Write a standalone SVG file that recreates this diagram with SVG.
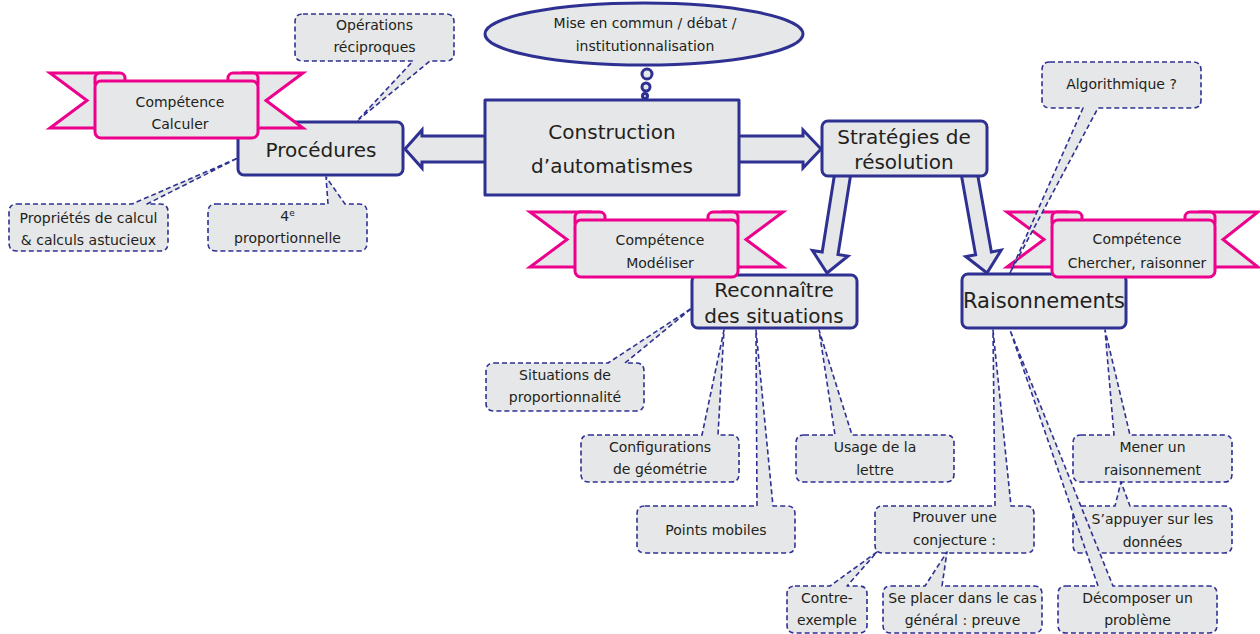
<svg xmlns="http://www.w3.org/2000/svg" width="1260" height="634" viewBox="0 0 1260 634">
<defs>
<style>
.box{fill:#e6e7e8;stroke:#2e3192;stroke-width:3;stroke-linejoin:round}
.arr{fill:#e6e7e8;stroke:#2e3192;stroke-width:3;stroke-linejoin:miter}
.co{fill:#e6e7e8;stroke:#2e3192;stroke-width:1.6;stroke-dasharray:5 3;stroke-linejoin:round}
.rib{fill:#e6e7e8;stroke:#ec008c;stroke-width:3;stroke-linejoin:miter}
.ribr{fill:#e6e7e8;stroke:#ec008c;stroke-width:3}
text{font-family:"DejaVu Sans","Liberation Sans",sans-serif;fill:#231f20;text-anchor:middle}
.s{font-size:14px}
.b{font-size:20px}
</style>
</defs>
<rect width="1260" height="634" fill="#ffffff"/>

<g id="connectors">
<polygon class="arr" points="405,149 422,130 422,136 487,136 487,162 422,162 422,168"/>
<polygon class="arr" points="737,136 803,136 803,130 821,149 803,168 803,162 737,162"/>
<polygon class="arr" points="835.1,170.7 822.2,252 812.4,250.4 827,273 847.9,256.1 838,254.5 850.9,173.3"/>
<polygon class="arr" points="961.1,173.4 975.6,254.7 965.8,256.5 987,273 1001.2,250.1 991.4,251.9 976.9,170.6"/>
<circle class="box" cx="647" cy="74" r="5" stroke-width="2.5"/>
<circle class="box" cx="646" cy="87" r="4" stroke-width="2.5"/>
<circle class="box" cx="645" cy="96" r="2.5" stroke-width="2.5"/>
</g>

<g id="node-mise-en-commun">
<ellipse class="box" cx="644" cy="34" rx="159" ry="31"/>
<text class="s" x="645" y="28">Mise en commun / débat /</text>
<text class="s" x="645" y="51">institutionnalisation</text>
</g>

<g id="node-construction">
<rect class="box" x="485" y="100" width="254" height="95"/>
<text class="b" x="612" y="139">Construction</text>
<text class="b" x="612" y="173">d’automatismes</text>
</g>

<g id="node-procedures">
<rect class="box" x="238" y="122" width="165" height="53" rx="6"/>
<text class="b" x="321" y="157">Procédures</text>
</g>

<g id="node-strategies">
<rect class="box" x="822" y="121" width="165" height="55" rx="6"/>
<text class="b" x="904" y="144">Stratégies de</text>
<text class="b" x="904" y="169">résolution</text>
</g>

<g id="node-reconnaitre">
<rect class="box" x="692" y="275" width="165" height="53" rx="6"/>
<text class="b" x="774" y="297">Reconnaître</text>
<text class="b" x="774" y="323">des situations</text>
</g>

<g id="node-raisonnements">
<rect class="box" x="962" y="274" width="164" height="54" rx="6"/>
<text class="b" x="1044" y="308" style="font-size:21px">Raisonnements</text>
</g>

<g id="banner-calculer">
<polygon class="rib" points="50,73 110,73 110,128 50,128 87,100.5"/>
<polygon class="rib" points="303,73 243,73 243,128 303,128 266,100.5"/>
<rect class="ribr" x="95" y="73" width="30" height="16" rx="5"/>
<rect class="ribr" x="228" y="73" width="30" height="16" rx="5"/>
<rect class="ribr" x="95" y="81" width="163" height="57" rx="6"/>
<text class="s" x="180" y="107">Compétence</text>
<text class="s" x="180" y="129">Calculer</text>
</g>

<g id="banner-modeliser">
<polygon class="rib" points="530,212 590,212 590,267 530,267 567,239.5"/>
<polygon class="rib" points="783,212 723,212 723,267 783,267 746,239.5"/>
<rect class="ribr" x="575" y="212" width="30" height="16" rx="5"/>
<rect class="ribr" x="708" y="212" width="30" height="16" rx="5"/>
<rect class="ribr" x="575" y="220" width="163" height="57" rx="6"/>
<text class="s" x="660" y="245">Compétence</text>
<text class="s" x="660" y="268">Modéliser</text>
</g>

<g id="banner-chercher">
<polygon class="rib" points="1007,212 1067,212 1067,267 1007,267 1044,239.5"/>
<polygon class="rib" points="1258,212 1200,212 1200,267 1258,267 1223,239.5"/>
<rect class="ribr" x="1052" y="212" width="30" height="16" rx="5"/>
<rect class="ribr" x="1185" y="212" width="30" height="16" rx="5"/>
<rect class="ribr" x="1052" y="220" width="163" height="57" rx="6"/>
<text class="s" x="1137" y="244">Compétence</text>
<text class="s" x="1137" y="268">Chercher, raisonner</text>
</g>

<g id="callout-operations">
<path class="co" d="M303,14 H446 Q454,14 454,22 V53 Q454,61 446,61 H430 L357,121 L413,61 H303 Q295,61 295,53 V22 Q295,14 303,14 Z"/>
<text class="s" x="374.5" y="30">Opérations</text>
<text class="s" x="374.5" y="52">réciproques</text>
</g>

<g id="callout-proprietes">
<path class="co" d="M17,204 H132 L238,158 L147,204 H160 Q168,204 168,212 V243 Q168,251 160,251 H17 Q9,251 9,243 V212 Q9,204 17,204 Z"/>
<text class="s" x="88.5" y="223">Propriétés de calcul</text>
<text class="s" x="88.5" y="245">&amp; calculs astucieux</text>
</g>

<g id="callout-quatrieme">
<path class="co" d="M216,204 H328 L326,177 L345,204 H359 Q367,204 367,212 V243 Q367,251 359,251 H216 Q208,251 208,243 V212 Q208,204 216,204 Z"/>
<text class="s" x="287.5" y="221">4<tspan font-size="9" dy="-5">e</tspan></text>
<text class="s" x="287.5" y="243">proportionnelle</text>
</g>

<g id="callout-algorithmique">
<path class="co" d="M1050,62 H1193 Q1201,62 1201,70 V100 Q1201,108 1193,108 H1098 L1010,273 L1083,108 H1050 Q1042,108 1042,100 V70 Q1042,62 1050,62 Z"/>
<text class="s" x="1121.5" y="89">Algorithmique ?</text>
</g>

<g id="callout-situations">
<path class="co" d="M494,363 H608 L692,308 L625,363 H636 Q644,363 644,371 V403 Q644,411 636,411 H494 Q486,411 486,403 V371 Q486,363 494,363 Z"/>
<text class="s" x="565" y="380">Situations de</text>
<text class="s" x="565" y="402">proportionnalité</text>
</g>

<g id="callout-configurations">
<path class="co" d="M589,435 H702 L724,330 L718,435 H731 Q739,435 739,443 V474 Q739,482 731,482 H589 Q581,482 581,474 V443 Q581,435 589,435 Z"/>
<text class="s" x="660" y="452">Configurations</text>
<text class="s" x="660" y="474">de géométrie</text>
</g>

<g id="callout-points">
<path class="co" d="M645,506 H757 L756,330 L773,506 H787 Q795,506 795,514 V545 Q795,553 787,553 H645 Q637,553 637,545 V514 Q637,506 645,506 Z"/>
<text class="s" x="716" y="535">Points mobiles</text>
</g>

<g id="callout-usage">
<path class="co" d="M804,435 H835 L819,330 L852,435 H946 Q954,435 954,443 V474 Q954,482 946,482 H804 Q796,482 796,474 V443 Q796,435 804,435 Z"/>
<text class="s" x="875" y="452">Usage de la</text>
<text class="s" x="875" y="475">lettre</text>
</g>

<g id="callout-prouver">
<path class="co" d="M883,506 H995 L993,330 L1011,506 H1026 Q1034,506 1034,514 V545 Q1034,553 1026,553 H883 Q875,553 875,545 V514 Q875,506 883,506 Z"/>
<text class="s" x="954.5" y="522">Prouver une</text>
<text class="s" x="954.5" y="545">conjecture :</text>
</g>

<g id="callout-mener">
<path class="co" d="M1081,435 H1114 L1105,330 L1130,435 H1224 Q1232,435 1232,443 V474 Q1232,482 1224,482 H1081 Q1073,482 1073,474 V443 Q1073,435 1081,435 Z"/>
<text class="s" x="1152.5" y="452">Mener un</text>
<text class="s" x="1152.5" y="475">raisonnement</text>
</g>

<g id="callout-appuyer">
<path class="co" d="M1081,506 H1115 L1121,482 L1130,506 H1224 Q1232,506 1232,514 V545 Q1232,553 1224,553 H1081 Q1073,553 1073,545 V514 Q1073,506 1081,506 Z"/>
<text class="s" x="1152.5" y="524">S’appuyer sur les</text>
<text class="s" x="1152.5" y="547">données</text>
</g>

<g id="callout-decomposer">
<path class="co" d="M1066,586 H1098 L1010,330 L1113,586 H1209 Q1217,586 1217,594 V625 Q1217,633 1209,633 H1066 Q1058,633 1058,625 V594 Q1058,586 1066,586 Z"/>
<text class="s" x="1137.5" y="603">Décomposer un</text>
<text class="s" x="1137.5" y="625">problème</text>
</g>

<g id="callout-contre-exemple">
<path class="co" d="M795,586 H830 L877,552 L847,586 H859 Q867,586 867,594 V625 Q867,633 859,633 H795 Q787,633 787,625 V594 Q787,586 795,586 Z"/>
<text class="s" x="827" y="603">Contre-</text>
<text class="s" x="827" y="625">exemple</text>
</g>

<g id="callout-se-placer">
<path class="co" d="M891,586 H925 L947,552 L942,586 H1034 Q1042,586 1042,594 V625 Q1042,633 1034,633 H891 Q883,633 883,625 V594 Q883,586 891,586 Z"/>
<text class="s" x="962.5" y="603">Se placer dans le cas</text>
<text class="s" x="962.5" y="625">général : preuve</text>
</g>
</svg>
